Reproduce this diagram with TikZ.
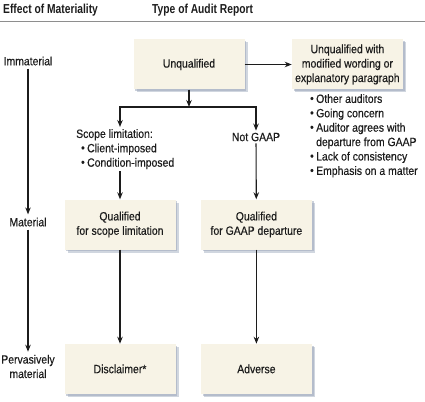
\documentclass[tikz,border=0pt]{standalone}
\usepackage{fontspec}
\setmainfont{Liberation Sans}[FakeStretch=0.87, FakeBold=0.35]
\newfontfamily\headfont{Liberation Sans}[FakeStretch=0.79]
\usetikzlibrary{arrows.meta,positioning,shadows}
\definecolor{boxfill}{HTML}{F7F3E6}
\definecolor{shade}{HTML}{97A3B8}
\definecolor{rulegray}{HTML}{8E8E8E}
\definecolor{ink}{HTML}{1C1C1C}
\newcommand{\bul}{\raisebox{0.05em}{\scalebox{0.95}{\textbullet}}\hspace{2.5pt}}

\begin{document}
\begin{tikzpicture}[x=1pt, y=1pt,
  box/.style={rectangle, fill=boxfill, minimum width=111pt, minimum height=50pt, inner xsep=2pt,
    align=center, text=ink, font=\fontsize{12}{14.4}\selectfont,
    drop shadow={shadow xshift=3pt, shadow yshift=-3pt, fill=shade, opacity=0.45},
    drop shadow={shadow xshift=1.8pt, shadow yshift=-1.8pt, fill=shade}},
  note/.style={text=ink, font=\fontsize{12}{14.4}\selectfont, align=left, inner sep=2pt},
  level/.style={text=ink, font=\fontsize{12}{14.4}\selectfont, align=center, inner sep=3pt},
  head/.style={text=ink, font=\headfont\bfseries\fontsize{13}{15}\selectfont, inner sep=0pt, anchor=base west},
  arr/.style={-{Stealth[length=7pt, width=5.5pt]}, line width=1.1pt, ink},
  node distance=25pt]
\useasboundingbox (0,0) rectangle (425,-401);
\node[head] (effect) at (3,-13.5) {Effect of Materiality};
\node[head] (type) at (152,-13.5) {Type of Audit Report};
\draw[rulegray, line width=0.9pt] (0,-21) -- (425,-21);
\node[box] (unq) at (189,-64.5) {Unqualified};
\node[box, right=47pt of unq] (mod) {Unqualified with\\modified wording or\\explanatory paragraph};
\node[note, anchor=north west] (reasons) at (308,-92) {\bul Other auditors\\\bul Going concern\\\bul Auditor agrees with\\\phantom{\bul}departure from GAAP\\\bul Lack of consistency\\\bul Emphasis on a matter};
\node[box] (qs) at (120,-224.5) {Qualified\\for scope limitation};
\node[box, right=of qs] (qg) {Qualified\\for GAAP departure};
\node[box, below=94pt of qs] (dis) {Disclaimer*};
\node[box, right=of dis] (adv) {Adverse};
\node[note, anchor=north west] (scope) at (74,-127) {Scope limitation:\\\hspace*{5pt}\bul Client-imposed\\\hspace*{5pt}\bul Condition-imposed};
\node[note] (ngaap) at (256,-137) {Not GAAP};
\coordinate (fork) at (unq |- 0,-107);
\node[level] (imm) at (28,-61) {Immaterial};
\node[level] (mat) at (28,-222) {Material};
\node[level] (perv) at (28,-366.5) {Pervasively\\material};
\draw[arr] (unq) -- (mod);
\draw[arr] (unq) -- (fork);
\draw[arr] (fork) -| (scope.north -| qs);
\draw[arr] (fork) -| (ngaap.north);
\draw[arr] (scope.south -| qs) -- (qs);
\draw[arr] (ngaap) -- (qg);
\draw[arr] (qs) -- (dis);
\draw[arr] (qg) -- (adv);
\draw[arr] (imm) -- (mat);
\draw[arr] (mat) -- (perv);
\end{tikzpicture}
\end{document}
